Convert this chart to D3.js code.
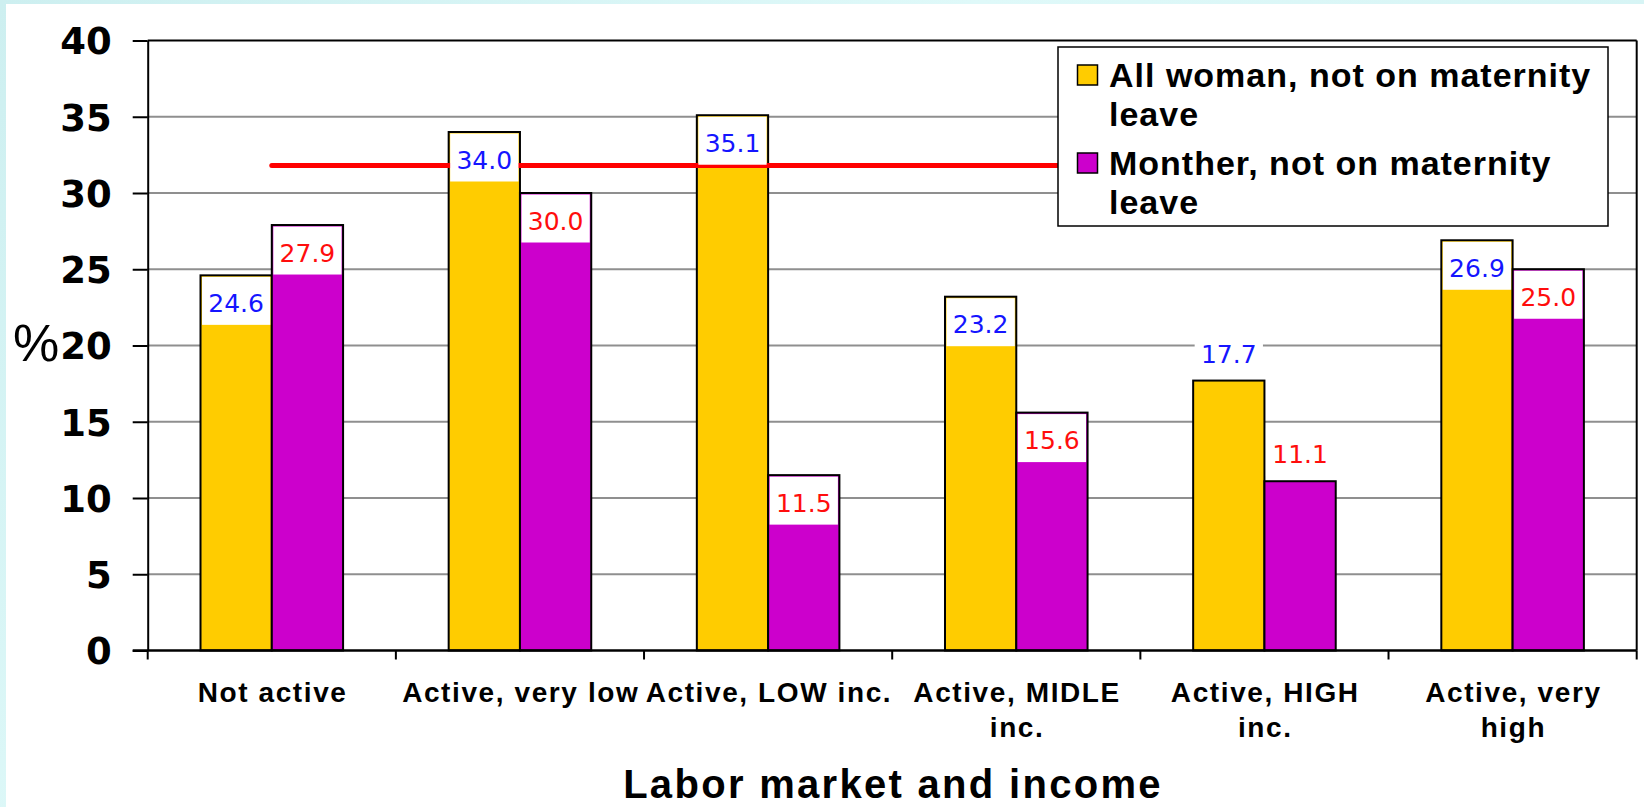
<!DOCTYPE html>
<html>
<head>
<meta charset="utf-8">
<script src="https://cdn.jsdelivr.net/npm/d3@7"></script>
<style>
  html, body { margin: 0; padding: 0; }
  body { width: 1644px; height: 807px; overflow: hidden; background: linear-gradient(135deg, #cdeff0, #dff9f9 40%, #cdeff0); }
  svg { display: block; }
</style>
</head>
<body>
<div id="chart"></div>
<script>
const width = 1644;
const height = 807;

// categories and their wrapped tick labels
const categories = ['Not active', 'Active, very low', 'Active, LOW inc.', 'Active, MIDLE inc.', 'Active, HIGH inc.', 'Active, very high'];
const tickLabels = [['Not active'], ['Active, very low'], ['Active, LOW inc.'], ['Active, MIDLE', 'inc.'], ['Active, HIGH', 'inc.'], ['Active, very', 'high']];

// series values (%)
const allWomen = [24.6, 34.0, 35.1, 23.2, 17.7, 26.9];
const mothers = [27.9, 30.0, 11.5, 15.6, 11.1, 25.0];
const seriesNames = ['All woman, not on maternity leave', 'Monther, not on maternity leave'];
const legendLines = [['All woman, not on maternity', 'leave'], ['Monther, not on maternity', 'leave']];

// reference line (%)
const referenceLine = 31.8;

const yTicks = [0, 5, 10, 15, 20, 25, 30, 35, 40];
const xTitle = 'Labor market and income';
const yTitle = '%';

// labels drawn above the bar instead of inside
const labelsAbove = ['Active, HIGH inc.'];

const colors = ['#ffcc00', '#cc00cc'];
const labelColors = ['#1515ff', '#ff0d0d'];

const plot = { left: 147.7, right: 1636.7, top: 40.5, bottom: 650.5 };

const svg = d3
  .select('#chart')
  .append('svg')
  .attr('width', width)
  .attr('height', height);

// white panel
svg.append('rect')
  .attr('x', 6).attr('y', 4)
  .attr('width', width - 6).attr('height', height - 4)
  .attr('fill', '#ffffff');

const yScale = d3.scaleLinear().domain([0, 40]).range([plot.bottom, plot.top]);

const x0 = d3.scaleBand()
  .domain(categories)
  .range([plot.left, plot.right])
  .paddingInner(0.4255)
  .paddingOuter(0.2128);

const x1 = d3.scaleBand()
  .domain([0, 1])
  .range([0, x0.bandwidth()]);

// gridlines
svg.append('g')
  .selectAll('line')
  .data(yTicks.filter((d) => d > 0))
  .enter()
  .append('line')
  .attr('x1', plot.left)
  .attr('x2', plot.right)
  .attr('y1', (d) => yScale(d))
  .attr('y2', (d) => yScale(d))
  .attr('stroke', (d) => (d === 40 ? '#000' : '#8f8f8f'))
  .attr('stroke-width', 2);

// right border
svg.append('line')
  .attr('x1', plot.right).attr('x2', plot.right)
  .attr('y1', plot.top).attr('y2', plot.bottom)
  .attr('stroke', '#000').attr('stroke-width', 2);

// bars
const rows = categories.map((c, i) => ({ cat: c, values: [allWomen[i], mothers[i]] }));

const groups = svg.append('g')
  .selectAll('g')
  .data(rows)
  .enter()
  .append('g')
  .attr('transform', (d) => `translate(${x0(d.cat)},0)`);

groups.selectAll('rect.bar')
  .data((d) => d.values.map((v, s) => ({ cat: d.cat, v, s })))
  .enter()
  .append('rect')
  .attr('class', 'bar')
  .attr('x', (d) => x1(d.s))
  .attr('width', x1.bandwidth())
  .attr('y', (d) => yScale(d.v))
  .attr('height', (d) => yScale(0) - yScale(d.v))
  .attr('fill', (d) => colors[d.s])
  .attr('stroke', '#000')
  .attr('stroke-width', 2);

// reference line (under the value labels)
const firstCenter = x0(categories[0]) + x0.bandwidth() / 2;
const lastCenter = x0(categories[categories.length - 1]) + x0.bandwidth() / 2;
svg.append('line')
  .attr('x1', firstCenter)
  .attr('x2', lastCenter)
  .attr('y1', yScale(referenceLine))
  .attr('y2', yScale(referenceLine))
  .attr('stroke', '#ff0000')
  .attr('stroke-width', 5)
  .attr('stroke-linecap', 'round');

// value labels with white boxes
const labelLayer = svg.append('g')
  .selectAll('g')
  .data(rows)
  .enter()
  .append('g')
  .attr('transform', (d) => `translate(${x0(d.cat)},0)`);

const labels = labelLayer.selectAll('g.lbl')
  .data((d) => d.values.map((v, s) => ({ cat: d.cat, v, s })))
  .enter()
  .append('g')
  .attr('class', 'lbl')
  .attr('transform', (d) => {
    const top = yScale(d.v);
    const boxTop = labelsAbove.includes(d.cat) ? top - 53 : top + 1.5;
    return `translate(${x1(d.s)},${boxTop})`;
  });

labels.append('rect')
  .attr('x', 1.5)
  .attr('width', x1.bandwidth() - 3)
  .attr('height', 48)
  .attr('fill', '#fff');

labels.append('text')
  .attr('x', x1.bandwidth() / 2)
  .attr('y', 35)
  .attr('text-anchor', 'middle')
  .attr('font-family', 'DejaVu Sans')
  .attr('font-size', 25)
  .attr('fill', (d) => labelColors[d.s])
  .text((d) => d.v.toFixed(1));

// y axis
const yAxis = svg.append('g')
  .attr('transform', `translate(${plot.left},0)`)
  .call(d3.axisLeft(yScale).tickValues(yTicks).tickSize(15).tickPadding(21).tickSizeOuter(0));
yAxis.select('.domain').attr('stroke', '#000').attr('stroke-width', 2);
yAxis.selectAll('.tick line').attr('stroke', '#000').attr('stroke-width', 2);
yAxis.selectAll('.tick text')
  .attr('font-family', 'DejaVu Sans')
  .attr('font-weight', 'bold')
  .attr('font-size', 37)
  .attr('dy', '0.36em')
  .attr('fill', '#000');

// x axis baseline and boundary ticks
svg.append('line')
  .attr('x1', plot.left - 15).attr('x2', plot.right)
  .attr('y1', plot.bottom).attr('y2', plot.bottom)
  .attr('stroke', '#000').attr('stroke-width', 2.5);

const boundaries = categories.map((c) => x0(c) - x0.step() * x0.paddingInner() / 2)
  .concat([plot.right]);
svg.append('g')
  .selectAll('line')
  .data(boundaries)
  .enter()
  .append('line')
  .attr('x1', (d) => d).attr('x2', (d) => d)
  .attr('y1', plot.bottom).attr('y2', plot.bottom + 9)
  .attr('stroke', '#000').attr('stroke-width', 2);

const xAxis = svg.append('g')
  .attr('transform', `translate(0,${plot.bottom})`)
  .call(d3.axisBottom(x0).tickSize(0).tickFormat(''));
xAxis.select('.domain').remove();
xAxis.selectAll('.tick text')
  .attr('y', 0)
  .attr('dy', 0)
  .attr('font-family', 'Liberation Sans')
  .attr('font-weight', 'bold')
  .attr('font-size', 28)
  .attr('letter-spacing', 1.6)
  .attr('fill', '#000')
  .each(function (d, i) {
    const t = d3.select(this);
    tickLabels[i].forEach((line, j) => {
      t.append('tspan')
        .attr('x', 0.8)
        .attr('y', 51 + j * 35)
        .text(line);
    });
  });

// axis titles
svg.append('text')
  .attr('x', 893)
  .attr('y', 798)
  .attr('text-anchor', 'middle')
  .attr('font-family', 'Liberation Sans')
  .attr('font-weight', 'bold')
  .attr('font-size', 40)
  .attr('letter-spacing', 2.3)
  .attr('fill', '#000')
  .text(xTitle);

svg.append('text')
  .attr('x', 13)
  .attr('y', 361)
  .attr('font-family', 'Liberation Sans')
  .attr('font-size', 52)
  .attr('fill', '#000')
  .text(yTitle);

// legend
const legend = svg.append('g').attr('transform', 'translate(1058,47)');
legend.append('rect')
  .attr('width', 550)
  .attr('height', 179)
  .attr('fill', '#fff')
  .attr('stroke', '#000')
  .attr('stroke-width', 1.5);

const items = legend.selectAll('g.item')
  .data(seriesNames)
  .enter()
  .append('g')
  .attr('class', 'item')
  .attr('transform', (d, i) => `translate(0,${i * 88})`);

items.append('rect')
  .attr('x', 19.5)
  .attr('y', 18)
  .attr('width', 20)
  .attr('height', 20)
  .attr('fill', (d, i) => colors[i])
  .attr('stroke', '#000')
  .attr('stroke-width', 1.5);

items.append('text')
  .attr('font-family', 'Liberation Sans')
  .attr('font-weight', 'bold')
  .attr('font-size', 34)
  .attr('letter-spacing', 1)
  .attr('fill', '#000')
  .each(function (d, i) {
    const t = d3.select(this);
    legendLines[i].forEach((line, j) => {
      t.append('tspan')
        .attr('x', 51)
        .attr('y', 40 + j * 39)
        .text(line);
    });
  });
</script>
</body>
</html>
